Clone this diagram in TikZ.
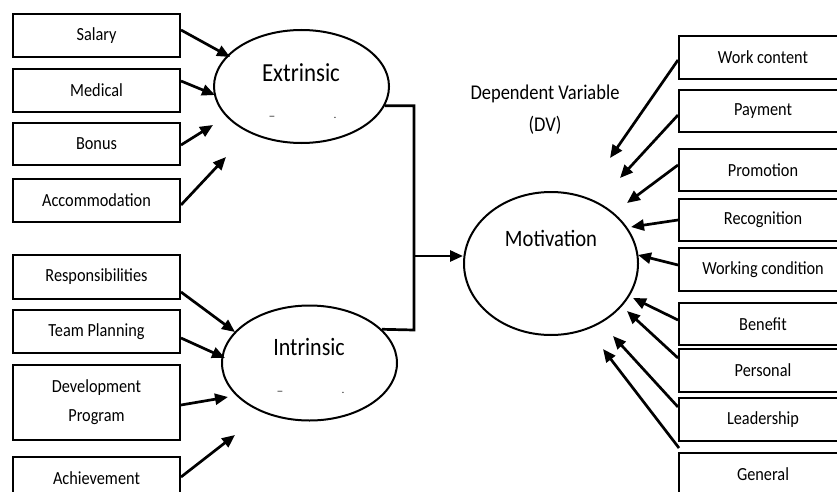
\documentclass[tikz,border=0pt]{standalone}
\usepackage{fontspec}
\setmainfont{Carlito}[FakeStretch=0.88]
\usetikzlibrary{arrows.meta,shapes.geometric}
\tikzset{
  lbox/.style={draw=black, line width=2pt, minimum width=167pt, minimum height=43pt, inner sep=0pt, font=\fontsize{18.5}{29}\selectfont, align=center},
  rbox/.style={draw=black, line width=2pt, minimum width=168pt, minimum height=43pt, inner sep=0pt, font=\fontsize{18.5}{29}\selectfont, align=center},
  ell/.style={draw=black, ellipse, line width=2pt, inner sep=0pt},
  arr/.style={line width=2.7pt, -{Triangle[length=13pt,width=11pt]}},
  conn/.style={line width=2.7pt},
  tinymark/.style={font=\fontsize{11}{12}\selectfont, inner sep=0pt}
}
\begin{document}
\begin{tikzpicture}[x=1pt,y=-1pt]
\useasboundingbox (0,0) rectangle (837,492);
\clip (0,0) rectangle (837,492);
\fill[white] (0,0) rectangle (837,492);

% left boxes
\node[lbox] (sal) at (96.5,35.5) {Salary};
\node[lbox] (med) at (96.5,90.5) {Medical};
\node[lbox, minimum height=42pt] (bon) at (96.5,144) {Bonus};
\node[lbox] (acc) at (96.5,200.5) {Accommodation};
\node[lbox, minimum height=44pt] (resp) at (96.5,277) {Responsibilities};
\node[lbox] (team) at (96.5,331.5) {Team Planning};
\node[lbox, minimum height=75pt] (dev) at (96.5,402.5) {Development\\Program};
\node[lbox] (ach) at (96.5,478.5) {Achievement};

% right boxes
\node[rbox] (wc) at (763,57.5) {Work content};
\node[rbox, minimum height=42pt] (pay) at (763,111) {Payment};
\node[rbox, minimum height=42pt] (pro) at (763,170) {Promotion};
\node[rbox, minimum height=42pt] (rec) at (763,220) {Recognition};
\node[rbox] (wcond) at (763,269.5) {Working condition};
\node[rbox, minimum height=42pt] (ben) at (763,324) {Benefit};
\node[rbox] (per) at (763,370.5) {Personal};
\node[rbox] (lead) at (763,419.5) {Leadership};
\node[rbox] (gen) at (763,474.5) {General};

% ellipses
\node[ell, minimum width=175pt, minimum height=113pt] (ext) at (301.5,86.5) {};
\node[font=\fontsize{26}{30}\selectfont, inner sep=0pt] (extl) at (301,73) {Extrinsic};
\node[tinymark] (extu) at (272,116) {\_};
\node[tinymark] (extd) at (335,118) {.};

\node[ell, minimum width=175pt, minimum height=115pt] (int) at (309.5,363) {};
\node[font=\fontsize{25}{30}\selectfont, inner sep=0pt] (intl) at (309,347) {Intrinsic};
\node[tinymark] (intu) at (280,391) {\_};
\node[tinymark] (intd) at (343,393) {.};

\node[ell, minimum width=174pt, minimum height=143pt] (mot) at (551,263.5) {};
\node[font=\fontsize{23.5}{30}\selectfont, inner sep=0pt] (motl) at (551,238) {Motivation};

\node[font=\fontsize{21}{32}\selectfont, align=center] (dv) at (545,110) {Dependent Variable\\(DV)};

% free arrow ends
\coordinate (esal) at (230,57);
\coordinate (emed) at (215,95);
\coordinate (ebon) at (213,125);
\coordinate (eacc) at (226,157);
\coordinate (eresp) at (235,332);
\coordinate (eteam) at (225,358);
\coordinate (edev) at (228,397);
\coordinate (each) at (235,435);

\coordinate (ewc) at (610,158);
\coordinate (epay) at (620,178);
\coordinate (epro) at (627,203);
\coordinate (erec) at (631,227);
\coordinate (ewcond) at (638,255);
\coordinate (eben) at (633,298);
\coordinate (eper) at (627,311);
\coordinate (elead) at (613,336);
\coordinate (egen) at (603,349);

% junction
\coordinate (jb) at (414,330);
\coordinate (jm) at (414,256);

% left arrows
\draw[arr] ([yshift=5.5pt]sal.east) -- (esal);
\draw[arr] ([yshift=9.5pt]med.east) -- (emed);
\draw[arr] ([yshift=-1pt]bon.east) -- (ebon);
\draw[arr] ([yshift=-4.5pt]acc.east) -- (eacc);
\draw[arr] ([yshift=-15pt]resp.east) -- (eresp);
\draw[arr] ([yshift=-6.5pt]team.east) -- (eteam);
\draw[arr] ([yshift=-2.5pt]dev.east) -- (edev);
\draw[arr] ([yshift=1.5pt]ach.east) -- (each);

% right arrows
\draw[arr] ([yshift=-2.5pt]wc.west) -- (ewc);
\draw[arr] ([yshift=-4pt]pay.west) -- (epay);
\draw[arr] ([yshift=5pt]pro.west) -- (epro);
\draw[arr] (rec.west) -- (erec);
\draw[arr] ([yshift=4.5pt]wcond.west) -- (ewcond);
\draw[arr] ([yshift=4pt]ben.west) -- (eben);
\draw[arr] ([yshift=12.5pt]per.west) -- (eper);
\draw[arr] ([yshift=12.5pt]lead.west) -- (elead);
\draw[arr] ([xshift=1pt,yshift=4pt]gen.north west) -- (egen);

% connectors
\draw[conn] (ext.-13) -| (jb) -- (int.25);
\draw[arr] (jm) -- (mot.west |- jm);
\end{tikzpicture}
\end{document}
